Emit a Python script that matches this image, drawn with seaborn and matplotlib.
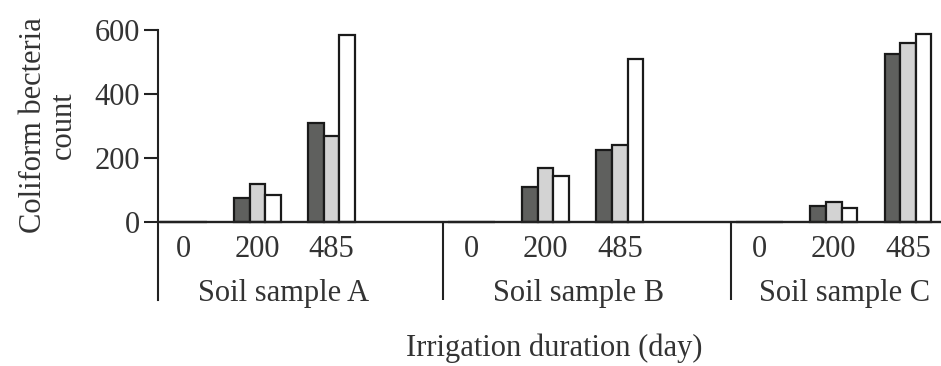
import matplotlib
matplotlib.use("Agg")
import matplotlib.pyplot as plt
import seaborn as sns
import pandas as pd

# data
samples = ["Soil sample A", "Soil sample B", "Soil sample C"]
days = ["0", "200", "485"]
series = ["Series 1", "Series 2", "Series 3"]
sample_a = [[0, 0, 0], [75, 119, 84], [309, 269, 584]]
sample_b = [[0, 0, 0], [109, 169, 144], [225, 240, 509]]
sample_c = [[0, 0, 0], [50, 62, 44], [525, 559, 587]]
yticks = [0, 200, 400, 600]

# layout
group_gap = 3.887
label_shift = [1.35, 1.45, 1.15]
colors = {"Series 1": "#5f605e", "Series 2": "#d3d3d3", "Series 3": "#ffffff"}

rows = []
for g, vals in enumerate([sample_a, sample_b, sample_c]):
    for i, d in enumerate(days):
        for k, s in enumerate(series):
            rows.append({"sample": samples[g], "day": d, "pos": g * group_gap + i,
                         "series": s, "count": vals[i][k]})
df = pd.DataFrame(rows)

sns.set_style("white")
plt.rcParams["font.family"] = ["Liberation Serif", "DejaVu Serif"]

fig = plt.figure(figsize=(9.41, 3.66), dpi=100)
ax = fig.add_axes([0.168, 0.180, 0.832, 0.738])

sns.barplot(data=df, x="pos", y="count", hue="series", palette=colors,
            native_scale=True, width=0.63, saturation=1, gap=0,
            edgecolor="#1a1a1a", linewidth=1.6, legend=False, ax=ax)

ax.set_xlim(-0.342, 10.22)
ax.set_ylim(-244, 600)
ax.set_yticks(yticks)
ax.set_yticklabels([str(t) for t in yticks], fontsize=22, color="#333333")
ax.set_xticks([])
ax.set_xlabel("")
ax.set_ylabel("")
ax.tick_params(axis="y", direction="out", length=10, width=1.5, pad=3, left=True, color="#222222")
for side in ["top", "right", "bottom"]:
    ax.spines[side].set_visible(False)
ax.spines["left"].set_linewidth(1.5)
ax.spines["left"].set_color("#222222")
ax.axhline(0, color="#222222", lw=1.7, zorder=5)

for g in range(1, 3):
    ax.vlines(g * group_gap - 0.39, -244, 0, color="#222222", lw=1.5)

for g in range(3):
    for i, d in enumerate(days):
        ax.text(g * group_gap + i, -87, d, ha="center", va="center", fontsize=22, color="#333333")
    ax.text(g * group_gap + label_shift[g], -222, samples[g], ha="center", va="center",
            fontsize=22, color="#333333")

ax.text(-0.14, 0.648, "Coliform becteria\ncount", transform=ax.transAxes, rotation=90,
        ha="center", va="center", multialignment="center", linespacing=1.05,
        fontsize=22, color="#333333")
fig.text(0.589, 0.049, "Irrigation duration (day)", ha="center", va="center",
         fontsize=22, color="#333333")

fig.savefig("out.png", dpi=100)
